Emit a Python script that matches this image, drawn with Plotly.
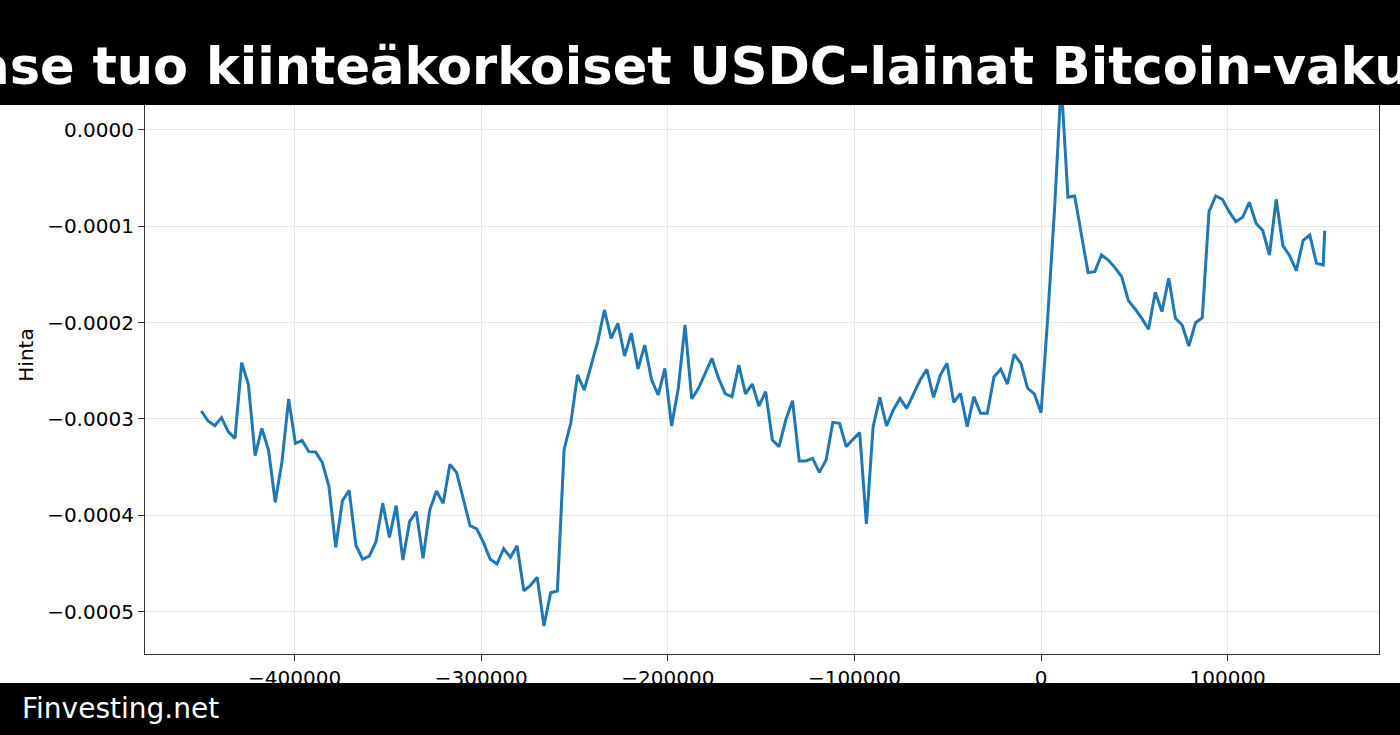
import plotly.graph_objects as go

W, H = 1400, 735

title_text = "Coinbase tuo kiinteäkorkoiset USDC-lainat Bitcoin-vakuudella"
source_text = "Finvesting.net"
y_title = "Hinta"

# aika sekunteina nollahetkestä, tunnin välein + viimeisin hinta perään
hours = list(range(-125, 43))
seconds = [h * 3600 for h in hours] + [152000]

price = [
    -2.918e-4, -3.022e-4, -3.070e-4, -2.987e-4, -3.132e-4, -3.202e-4, -2.416e-4, -2.641e-4,
    -3.382e-4, -3.098e-4, -3.323e-4, -3.866e-4, -3.444e-4, -2.793e-4, -3.254e-4, -3.223e-4,
    -3.340e-4, -3.344e-4, -3.451e-4, -3.704e-4, -4.334e-4, -3.849e-4, -3.742e-4, -4.309e-4,
    -4.458e-4, -4.424e-4, -4.275e-4, -3.877e-4, -4.230e-4, -3.900e-4, -4.465e-4, -4.067e-4,
    -3.963e-4, -4.448e-4, -3.946e-4, -3.749e-4, -3.877e-4, -3.472e-4, -3.558e-4, -3.835e-4,
    -4.109e-4, -4.143e-4, -4.285e-4, -4.458e-4, -4.507e-4, -4.348e-4, -4.437e-4, -4.317e-4,
    -4.784e-4, -4.728e-4, -4.645e-4, -5.151e-4, -4.805e-4, -4.787e-4, -3.318e-4, -3.040e-4,
    -2.544e-4, -2.700e-4, -2.458e-4, -2.198e-4, -1.869e-4, -2.163e-4, -2.007e-4, -2.347e-4,
    -2.111e-4, -2.482e-4, -2.233e-4, -2.589e-4, -2.752e-4, -2.475e-4, -3.074e-4, -2.682e-4,
    -2.025e-4, -2.793e-4, -2.682e-4, -2.520e-4, -2.371e-4, -2.579e-4, -2.741e-4, -2.769e-4,
    -2.440e-4, -2.741e-4, -2.638e-4, -2.866e-4, -2.717e-4, -3.219e-4, -3.288e-4, -3.011e-4,
    -2.811e-4, -3.437e-4, -3.437e-4, -3.410e-4, -3.555e-4, -3.427e-4, -3.036e-4, -3.046e-4,
    -3.288e-4, -3.212e-4, -3.143e-4, -4.091e-4, -3.081e-4, -2.776e-4, -3.074e-4, -2.908e-4,
    -2.786e-4, -2.890e-4, -2.734e-4, -2.596e-4, -2.485e-4, -2.776e-4, -2.544e-4, -2.423e-4,
    -2.828e-4, -2.734e-4, -3.081e-4, -2.769e-4, -2.942e-4, -2.942e-4, -2.561e-4, -2.485e-4,
    -2.638e-4, -2.329e-4, -2.423e-4, -2.682e-4, -2.741e-4, -2.935e-4, -1.938e-4, -0.831e-4,
    0.500e-4, -0.699e-4, -0.685e-4, -1.073e-4, -1.481e-4, -1.471e-4, -1.298e-4, -1.350e-4,
    -1.429e-4, -1.523e-4, -1.772e-4, -1.859e-4, -1.956e-4, -2.070e-4, -1.686e-4, -1.886e-4,
    -1.540e-4, -1.956e-4, -2.025e-4, -2.243e-4, -2.001e-4, -1.949e-4, -0.848e-4, -0.685e-4,
    -0.720e-4, -0.848e-4, -0.952e-4, -0.907e-4, -0.751e-4, -0.969e-4, -1.045e-4, -1.298e-4,
    -0.720e-4, -1.201e-4, -1.305e-4, -1.461e-4, -1.149e-4, -1.090e-4, -1.385e-4, -1.402e-4,
    -1.045e-4,
]

x_ticks = [-400000, -300000, -200000, -100000, 0, 100000]
x_labels = ["\u2212400000", "\u2212300000", "\u2212200000", "\u2212100000", "0", "100000"]
y_ticks = [0.0, -0.0001, -0.0002, -0.0003, -0.0004, -0.0005]
y_labels = ["0.0000", "\u22120.0001", "\u22120.0002", "\u22120.0003", "\u22120.0004", "\u22120.0005"]

# plot area in pixels
L, R, T, B = 145, 1379, 56, 654


def py(p):
    # pixel row -> paper y
    return (B - p) / (B - T)


def px(p):
    return (p - L) / (R - L)


FONT = "DejaVu Sans"
TICK = 20

fig = go.Figure()
fig.add_trace(go.Scatter(
    x=seconds, y=price, mode="lines",
    line=dict(color="#1f77b4", width=3),
    showlegend=False, hoverinfo="x+y",
))

fig.update_layout(
    width=W, height=H,
    margin=dict(l=L, r=W - R, t=T, b=H - B),
    paper_bgcolor="white", plot_bgcolor="white",
    font=dict(family=FONT, size=TICK, color="#000"),
    title=dict(
        text=title_text, xref="container", yref="container",
        x=0.5, xanchor="center", y=1 - 66 / H, yanchor="middle",
        font=dict(family=FONT, size=51, color="white", weight="bold"),
    ),
    shapes=[
        dict(type="rect", xref="paper", yref="paper", x0=-0.2, x1=1.2,
             y0=py(105), y1=py(-20), fillcolor="black", line_width=0, layer="above"),
        dict(type="rect", xref="paper", yref="paper", x0=-0.2, x1=1.2,
             y0=py(683), y1=py(760), fillcolor="black", line_width=0, layer="above"),
    ],
    annotations=[
        dict(text=source_text, xref="paper", yref="paper", x=px(20), y=py(708),
             xanchor="left", yanchor="middle", showarrow=False,
             font=dict(family=FONT, size=28, color="white")),
    ],
)

fig.update_xaxes(
    range=[-480200, 181100],
    tickvals=x_ticks, ticktext=x_labels,
    showgrid=True, gridcolor="#e6e6e6", gridwidth=1,
    zeroline=False,
    showline=True, linecolor="#333", linewidth=1.2, mirror=True,
    ticks="outside", ticklen=6, tickcolor="#333",
    tickfont=dict(family=FONT, size=TICK, color="#000"),
)
fig.update_yaxes(
    range=[-5.441e-4, 0.768e-4],
    tickvals=y_ticks, ticktext=y_labels,
    showgrid=True, gridcolor="#e6e6e6", gridwidth=1,
    zeroline=False,
    showline=True, linecolor="#333", linewidth=1.2, mirror=True,
    ticks="outside", ticklen=6, tickcolor="#333",
    tickfont=dict(family=FONT, size=TICK, color="#000"),
    title=dict(text=y_title, font=dict(family=FONT, size=TICK, color="#000"), standoff=8),
)

fig.write_html(
    "out.html",
    config={"displayModeBar": False},
    post_script="document.body.style.margin='0';document.body.style.overflow='hidden';",
)
